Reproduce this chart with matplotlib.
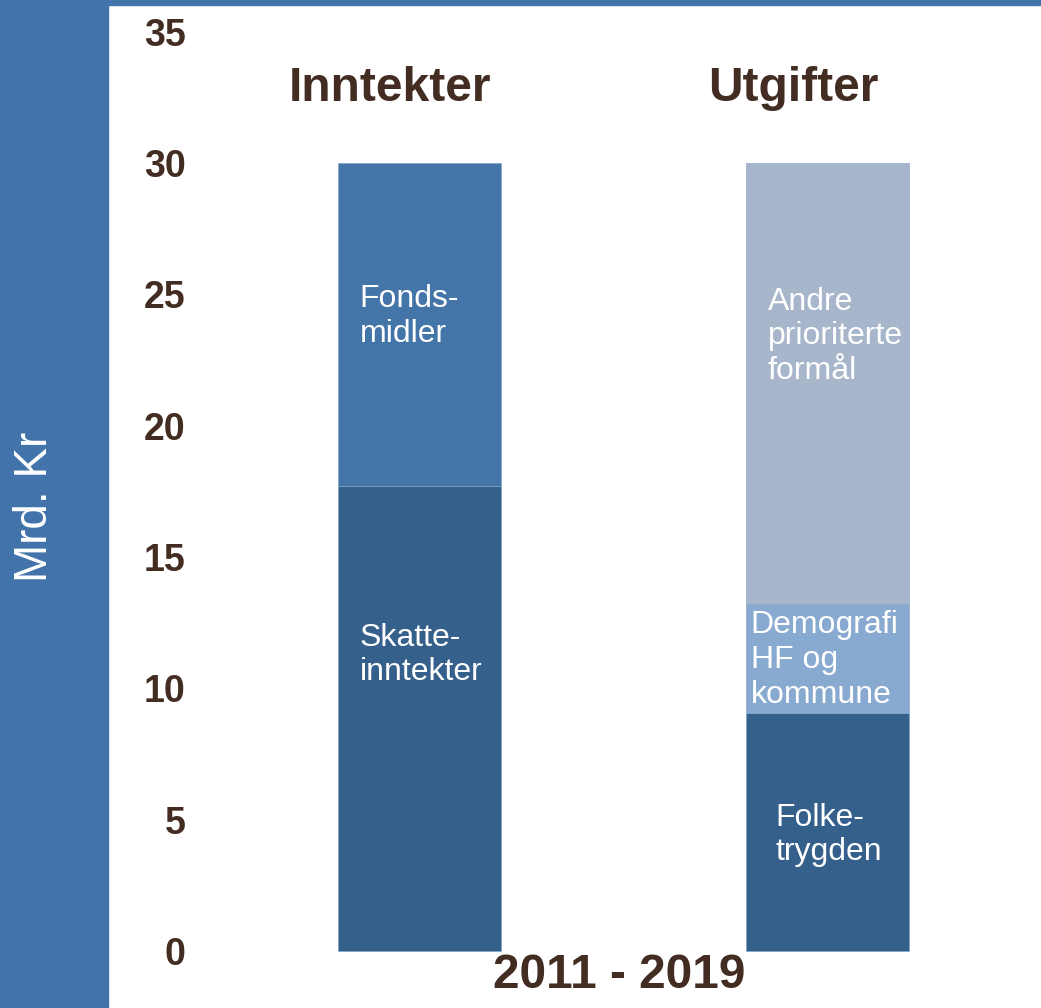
import matplotlib.pyplot as plt
from matplotlib.patches import Rectangle

plt.rcParams['font.family'] = ['Liberation Sans', 'DejaVu Sans']

# data (Mrd. kr, 2011-2019)
columns = ["Inntekter", "Utgifter"]
inntekter = [17.7, 12.3]   # Skatteinntekter, Fondsmidler
utgifter = [9.05, 4.15, 16.8]  # Folketrygden, Demografi, Andre prioriterte
inntekter_labels = ["Skatte-\ninntekter", "Fonds-\nmidler"]
utgifter_labels = ["Folke-\ntrygden", "Demografi\nHF og\nkommune", "Andre\nprioriterte\nformål"]
yticks = [0, 5, 10, 15, 20, 25, 30, 35]
period = "2011 - 2019"

inn_colors = ["#36608c", "#4475a9"]
utg_colors = ["#36608c", "#89aad0", "#a8b6cc"]
brown = "#432d22"
side_blue = "#4273aa"

fig = plt.figure(figsize=(10.41, 10.08), dpi=100)
fig.patches.append(Rectangle((0, 0), 108 / 1041, 1, transform=fig.transFigure,
                             color=side_blue, zorder=0))
fig.patches.append(Rectangle((108 / 1041, 1 - 5 / 1008), 1, 5 / 1008,
                             transform=fig.transFigure, color=side_blue, zorder=0))
ax = fig.add_axes([108 / 1041, 0, 1 - 108 / 1041, 1 - 5 / 1008])

w = 0.4
bottom = 0
for val, col in zip(inntekter, inn_colors):
    ax.bar(0, val, width=w, bottom=bottom, color=col, edgecolor="#7f9fc6", linewidth=0.4)
    bottom += val
bottom = 0
for val, col in zip(utgifter, utg_colors):
    ax.bar(1, val, width=w, bottom=bottom, color=col, edgecolor="#7f9fc6", linewidth=0.4)
    bottom += val

# segment labels
lab_style = dict(color="white", fontsize=23, ha="left", va="center", linespacing=1.2)
inn_pos = [(-0.146, 11.27), (-0.146, 24.17)]
utg_pos = [(0.873, 4.42), (0.812, 11.08), (0.854, 23.41)]
for (x, y), t in zip(inn_pos, inntekter_labels):
    ax.text(x, y, t, **lab_style)
for (x, y), t in zip(utg_pos, utgifter_labels):
    ax.text(x, y, t, **lab_style)

# column headers
ax.text(-0.073, 32.85, columns[0], fontsize=34.5, fontweight="bold", color=brown,
        ha="center", va="center")
ax.text(0.916, 32.85, columns[1], fontsize=34.5, fontweight="bold", color=brown,
        ha="center", va="center")
ax.text(0.49, -0.95, period, fontsize=34.5, fontweight="bold", color=brown,
        ha="center", va="center")

ax.set_xlim(-0.763, 1.523)
ax.set_ylim(-2.17, 36.02)
ax.set_yticks(yticks)
ax.set_yticklabels([str(t) for t in yticks], fontsize=27, fontweight="bold", color=brown)
ax.tick_params(axis="y", length=0, pad=-56)
ax.set_xticks([])
for s in ax.spines.values():
    s.set_visible(False)

fig.text(35 / 1041, 1 - 507 / 1008, "Mrd. Kr", rotation=90, color="white",
         fontsize=33, ha="center", va="center")

fig.savefig("out.png", dpi=100)
